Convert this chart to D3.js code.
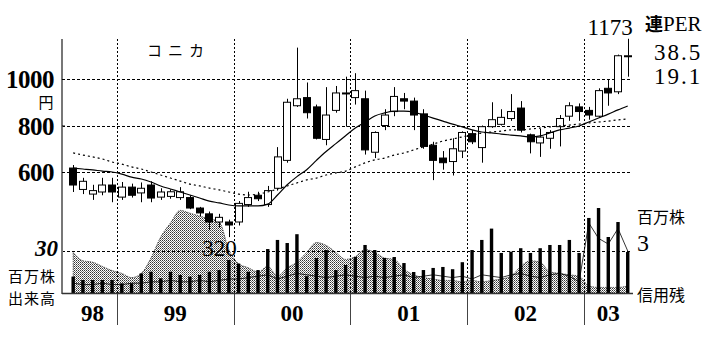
<!DOCTYPE html>
<html>
<head>
<meta charset="utf-8">
<script src="https://cdn.jsdelivr.net/npm/d3@7"></script>
<style>
  body { margin: 0; background: #fff; }
  svg text { fill: #000; }
</style>
</head>
<body>
<div id="chart"></div>
<script>
// monthly bars, Aug 1998 .. May 2003
const months = d3.timeMonth.range(new Date(1998, 7, 1), new Date(2003, 5, 1))
  .map(d3.timeFormat("%Y-%m"));

const open  = [617,525,505,514,544,492,535,510,544,492,495,490,490,445,420,385,385,385,460,500,
               460,530,650,885,920,880,740,865,940,920,915,685,800,860,915,905,850,715,660,645,
               690,765,705,795,805,830,875,760,725,745,795,840,880,865,840,960,945,1100];
const high  = [630,575,545,575,575,557,550,555,560,530,525,535,500,450,430,420,395,475,515,515,
               540,707,915,1135,985,890,965,970,1010,1025,950,775,870,965,940,920,870,730,690,745,
               775,780,800,900,870,935,905,765,785,780,845,900,895,880,960,1000,1105,1173];
const low   = [514,505,480,500,470,480,490,470,470,480,485,480,440,410,350,360,320,370,450,475,
               450,520,640,880,830,740,715,855,795,890,675,660,780,840,870,780,700,565,610,585,
               660,720,640,790,800,820,770,680,665,700,710,820,820,825,835,885,935,1010];
const close = [544,560,520,544,514,535,500,530,488,514,515,515,445,424,385,405,372,465,490,485,
               520,665,900,915,855,745,845,940,940,950,695,770,845,925,905,845,710,650,640,700,
               770,730,795,825,835,860,780,730,750,770,830,885,860,845,950,940,1100,1100];

// moving averages (solid = 12 month, dashed = 24 month)
const ma12 = [617,613,609,604,600,591,578,570,557,540,527,514,501,488,475,467,458,454,454,454,
              462,501,545,580,610,650,688,722,756,789,815,841,854,862,862,858,845,832,819,806,
              794,781,772,768,763,759,755,751,755,768,781,789,798,815,832,849,867,884];
const ma24 = [682,673,665,656,643,634,622,613,600,587,574,561,548,540,531,523,514,505,501,505,
              514,527,540,553,566,574,587,596,604,622,639,652,660,673,682,695,708,720,733,742,
              751,759,768,772,776,781,781,785,789,794,798,802,806,811,815,819,824,828];

// volume, million shares
const volume = [11.7,9.3,9.3,9.3,9.3,6.9,6.9,14,15.2,10.5,15.2,12.9,11.7,12.9,15.2,16.4,23.6,21,15.2,16.4,
                31.4,37.9,35.7,42,12,25,30.7,16.4,20,25.7,34.3,30.7,25,25.7,21.4,15,16.4,17.9,18.6,17,
                22,30.7,37.9,46,28.6,29.5,32,28.6,32,34.3,34.3,37.9,28.6,53.6,60.7,40,50.7,29.3];

// margin balances, million shares (buy = dotted area, sell = thin line)
const marginBuy  = [2.9,2.3,2.2,1.9,1.6,1.4,1.1,1.4,2.5,4.0,5.0,5.9,5.7,5.5,5.3,5.1,3.1,2.1,1.8,1.5,
                    1.9,1.2,1.8,2.2,2.9,3.6,3.4,2.9,2.4,2.6,3.1,2.9,2.5,2.4,1.7,1.3,1.1,1.0,0.9,0.9,
                    0.8,0.9,0.8,0.9,1.0,1.2,1.9,2.3,2.2,1.5,1.4,1.3,1.2,0.5,0.4,0.4,0.4,0.5];
const marginSell = [0.7,0.6,0.6,0.7,0.6,0.6,0.7,0.7,0.8,0.8,0.9,0.8,0.8,0.9,0.8,0.9,1.0,1.0,1.1,1.2,
                    1.3,1.0,1.2,1.4,1.3,1.2,1.1,1.2,1.3,1.2,1.1,1.2,1.1,1.2,1.3,1.1,1.2,1.3,1.2,1.1,
                    1.2,1.0,1.3,1.2,1.1,1.3,1.4,1.2,1.1,1.3,1.4,1.2,0.8,5.0,3.9,3.5,4.6,3.0];

const priceTicks = [600, 800, 1000];
const per = ["38.5", "19.1"];

const W = 724, H = 354;
const serif = "'Liberation Serif', 'DejaVu Serif', serif";
const jp = "'Noto Sans CJK JP', sans-serif";

const svg = d3.select("#chart").append("svg")
  .attr("width", W).attr("height", H);

svg.append("rect").attr("width", W).attr("height", H).attr("fill", "#fff");

// stipple for the margin-buy area
const defs = svg.append("defs");
const pat = defs.append("pattern")
  .attr("id", "dots").attr("width", 2).attr("height", 2)
  .attr("patternUnits", "userSpaceOnUse");
pat.append("rect").attr("width", 2).attr("height", 2).attr("fill", "#fff");
pat.append("rect").attr("width", 1).attr("height", 1).attr("fill", "#333");
pat.append("rect").attr("x", 1).attr("y", 1).attr("width", 1).attr("height", 1).attr("fill", "#777");

const x = d3.scaleBand()
  .domain(months)
  .range([68.3, 632.6])
  .paddingInner(0.2)
  .paddingOuter(0.1);
const cx = m => x(m) + x.bandwidth() / 2;

const y  = d3.scaleLinear().domain([600, 1000]).range([172, 79]);
const yv = d3.scaleLinear().domain([0, 30]).range([293, 251]);
const yc = d3.scaleLinear().domain([0, 3]).range([293, 251]);

const plotL = 62, plotR = 630, plotT = 39, base = 293;

const bars = months.map((m, i) => ({
  m, o: open[i], h: high[i], l: low[i], c: close[i],
  v: volume[i], buy: marginBuy[i], sell: marginSell[i],
  ma12: ma12[i], ma24: ma24[i]
}));

// margin buy balance, dotted area
svg.append("path")
  .datum(bars)
  .attr("fill", "url(#dots)")
  .attr("stroke", "#333")
  .attr("stroke-width", 0.8)
  .attr("stroke-dasharray", "1.5,1")
  .attr("d", d3.area()
    .x(d => cx(d.m)).y0(base).y1(d => yc(d.buy))
    .curve(d3.curveMonotoneX));

// margin sell balance, thin line
svg.append("path")
  .datum(bars)
  .attr("fill", "none")
  .attr("stroke", "#000")
  .attr("stroke-width", 0.8)
  .attr("d", d3.line().x(d => cx(d.m)).y(d => yc(d.sell)));

// volume bars
svg.append("g").selectAll("rect")
  .data(bars).join("rect")
  .attr("x", d => cx(d.m) - 1.7)
  .attr("width", 3.4)
  .attr("y", d => yv(d.v))
  .attr("height", d => base - yv(d.v))
  .attr("fill", "#000");

// horizontal grid
const grid = svg.append("g")
  .attr("stroke", "#000").attr("stroke-width", 1)
  .attr("stroke-dasharray", "3,2");
priceTicks.forEach(v => {
  grid.append("line").attr("x1", plotL).attr("x2", plotR)
    .attr("y1", Math.round(y(v)) + 0.5).attr("y2", Math.round(y(v)) + 0.5);
});
grid.append("line").attr("x1", plotL).attr("x2", plotR)
  .attr("y1", Math.round(yv(30)) + 0.5).attr("y2", Math.round(yv(30)) + 0.5);

// year separators
const yearStarts = months.filter(m => m.endsWith("-01"));
yearStarts.forEach(m => {
  const bx = Math.round(cx(m) - x.step() / 2) + 0.5;
  svg.append("line").attr("x1", bx).attr("x2", bx).attr("y1", plotT).attr("y2", base)
    .attr("stroke", "#000").attr("stroke-dasharray", "2,2");
  svg.append("line").attr("x1", bx).attr("x2", bx).attr("y1", base).attr("y2", 325)
    .attr("stroke", "#444");
});

// axes lines
svg.append("line").attr("x1", plotL).attr("x2", plotL).attr("y1", plotT).attr("y2", base + 1)
  .attr("stroke", "#777").attr("stroke-width", 2);
svg.append("line").attr("x1", plotL).attr("x2", 633).attr("y1", base + 0.5).attr("y2", base + 0.5)
  .attr("stroke", "#333").attr("stroke-width", 1.5);

// candles
const candles = svg.append("g");
candles.selectAll("line")
  .data(bars).join("line")
  .attr("x1", d => Math.round(cx(d.m)) + 0.5)
  .attr("x2", d => Math.round(cx(d.m)) + 0.5)
  .attr("y1", d => y(d.h)).attr("y2", d => y(d.l))
  .attr("stroke", "#000");
candles.selectAll("rect")
  .data(bars).join("rect")
  .attr("x", d => Math.round(x(d.m)) + 0.5)
  .attr("width", Math.round(x.bandwidth()) - 1)
  .attr("y", d => y(Math.max(d.o, d.c)))
  .attr("height", d => Math.max(1, Math.abs(y(d.o) - y(d.c))))
  .attr("fill", d => d.c >= d.o ? "#fff" : "#000")
  .attr("stroke", "#000");

// moving averages
svg.append("path").datum(bars)
  .attr("fill", "none").attr("stroke", "#000").attr("stroke-width", 1.2)
  .attr("d", d3.line().x(d => cx(d.m)).y(d => y(d.ma12)).curve(d3.curveMonotoneX));
svg.append("path").datum(bars)
  .attr("fill", "none").attr("stroke", "#000").attr("stroke-width", 1.2)
  .attr("stroke-dasharray", "2,3")
  .attr("d", d3.line().x(d => cx(d.m)).y(d => y(d.ma24)).curve(d3.curveMonotoneX));

// price axis labels
const ya = svg.append("g").attr("transform", `translate(${plotL},0)`)
  .call(d3.axisLeft(y).tickValues(priceTicks).tickFormat(d3.format("d"))
    .tickSize(4).tickPadding(4));
ya.select(".domain").remove();
ya.selectAll("line").attr("stroke", "#000").attr("x2", 3);
ya.selectAll("text")
  .attr("font-family", serif).attr("font-weight", "bold")
  .attr("font-size", 25).attr("letter-spacing", -0.5)
  .attr("dy", "0.34em");

const va = svg.append("g").attr("transform", `translate(${plotL},0)`)
  .call(d3.axisLeft(yv).tickValues([30]).tickSize(0).tickPadding(4));
va.select(".domain").remove();
va.selectAll("text")
  .attr("font-family", serif).attr("font-weight", "bold")
  .attr("font-style", "italic").attr("font-size", 23)
  .attr("dy", "0.2em");

svg.append("text").attr("x", 46).attr("y", 108).attr("text-anchor", "middle")
  .attr("font-family", jp).attr("font-size", 15).text("円");

// volume unit, two stacked labels
svg.append("text").attr("x", 8).attr("y", 281.5)
  .attr("font-family", jp).attr("font-size", 15).attr("letter-spacing", 1).text("百万株");
svg.append("text").attr("x", 8).attr("y", 303.5)
  .attr("font-family", jp).attr("font-size", 15).attr("letter-spacing", 1).text("出来高");

// year labels
const years = d3.groups(months, m => m.slice(2, 4));
years.forEach(([yy, ms]) => {
  const mid = (cx(ms[0]) + cx(ms[ms.length - 1])) / 2;
  svg.append("text").attr("x", mid).attr("y", 321).attr("text-anchor", "middle")
    .attr("font-family", serif).attr("font-weight", "bold").attr("font-size", 23)
    .text(yy);
});

// title
svg.append("text").attr("x", 147).attr("y", 56)
  .attr("font-family", jp).attr("font-size", 15).attr("letter-spacing", 6)
  .text("コニカ");

// high / low annotations
const hiIdx = d3.maxIndex(high), loIdx = d3.minIndex(low);
svg.append("text").attr("x", cx(months[hiIdx]) + 5).attr("y", 35)
  .attr("text-anchor", "end").attr("font-family", serif).attr("font-size", 23)
  .text(high[hiIdx]);
svg.append("text").attr("x", cx(months[loIdx]) + 8).attr("y", 256)
  .attr("text-anchor", "end").attr("font-family", serif).attr("font-size", 23)
  .text(low[loIdx]);

// PER block
const perT = svg.append("text").attr("x", 645).attr("y", 31);
perT.append("tspan").attr("font-family", jp).attr("font-weight", "bold").attr("font-size", 18).text("連");
perT.append("tspan").attr("font-family", serif).attr("font-size", 21).text("PER");
per.forEach((p, i) => {
  svg.append("text").attr("x", 654).attr("y", 60 + i * 24)
    .attr("font-family", serif).attr("font-size", 23).attr("letter-spacing", 2)
    .text(p);
});

// right labels for margin balance
svg.append("text").attr("x", 637).attr("y", 223)
  .attr("font-family", jp).attr("font-size", 16).text("百万株");
svg.append("text").attr("x", 637).attr("y", 251)
  .attr("font-family", serif).attr("font-size", 24).text("3");
svg.append("text").attr("x", 637).attr("y", 301)
  .attr("font-family", jp).attr("font-size", 16).text("信用残");
</script>
</body>
</html>
